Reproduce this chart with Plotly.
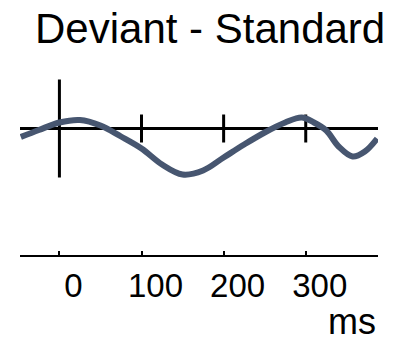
import plotly.graph_objects as go

# Difference wave (deviant minus standard), time in ms, amplitude in µV
time_ms = [-47, -25, 0, 25, 50, 75, 100, 125, 150, 175, 200, 225, 250, 275, 295, 310, 325, 340, 357, 372, 387]
diff_uv = [-0.85, -0.15, 0.6, 0.85, 0.3, -0.8, -2.0, -3.6, -4.6, -4.2, -2.9, -1.6, -0.4, 0.6, 1.1, 0.6, -0.2, -1.8, -2.8, -2.3, -1.0]

x_ticks = [0, 100, 200, 300]
x_range = [-48, 388]
y_range = [-12.65, 6.85]

onset_bar = [-4.9, 4.9]      # vertical marker at stimulus onset
zero_tick = [-1.4, 1.4]      # small marks on the zero line

wave_color = "#475670"
label_font = "Liberation Sans, Arial"

fig = go.Figure()

# zero line
fig.add_trace(go.Scatter(x=x_range, y=[0, 0], mode="lines",
                         line=dict(color="black", width=3), hoverinfo="skip"))
# onset bar
fig.add_trace(go.Scatter(x=[0, 0], y=onset_bar, mode="lines",
                         line=dict(color="black", width=3), hoverinfo="skip"))
# marks at 100/200/300 ms on the zero line
for t in x_ticks[1:]:
    fig.add_trace(go.Scatter(x=[t, t], y=zero_tick, mode="lines",
                             line=dict(color="black", width=3), hoverinfo="skip"))

# difference wave
fig.add_trace(go.Scatter(x=time_ms, y=diff_uv, mode="lines",
                         line=dict(color=wave_color, width=6, shape="spline", smoothing=1.0),
                         hoverinfo="skip"))

fig.update_layout(
    width=397, height=341,
    margin=dict(l=20, r=19, t=60, b=86),
    paper_bgcolor="white", plot_bgcolor="white",
    showlegend=False,
    xaxis=dict(range=x_range, tickvals=x_ticks, ticktext=[str(t) for t in x_ticks],
               showgrid=False, zeroline=False, showline=True, linecolor="black", linewidth=2,
               ticks="inside", ticklen=4, tickwidth=2, tickcolor="black",
               tickfont=dict(family=label_font, size=33, color="black"),
               ticklabelshift=14, ticklabelstandoff=0),
    yaxis=dict(range=y_range, visible=False, showgrid=False, zeroline=False),
    annotations=[
        dict(text="Deviant - Standard", x=0.53, y=1, xref="paper", yref="paper",
             xanchor="center", yanchor="bottom", yshift=6, showarrow=False,
             font=dict(family="Liberation Sans, Arial", size=42, color="black")),
        dict(text="ms", x=1, y=0, xref="paper", yref="paper",
             xanchor="right", yanchor="top", yshift=-44, showarrow=False,
             font=dict(family=label_font, size=36, color="black")),
    ],
)

fig.write_html("out.html")
